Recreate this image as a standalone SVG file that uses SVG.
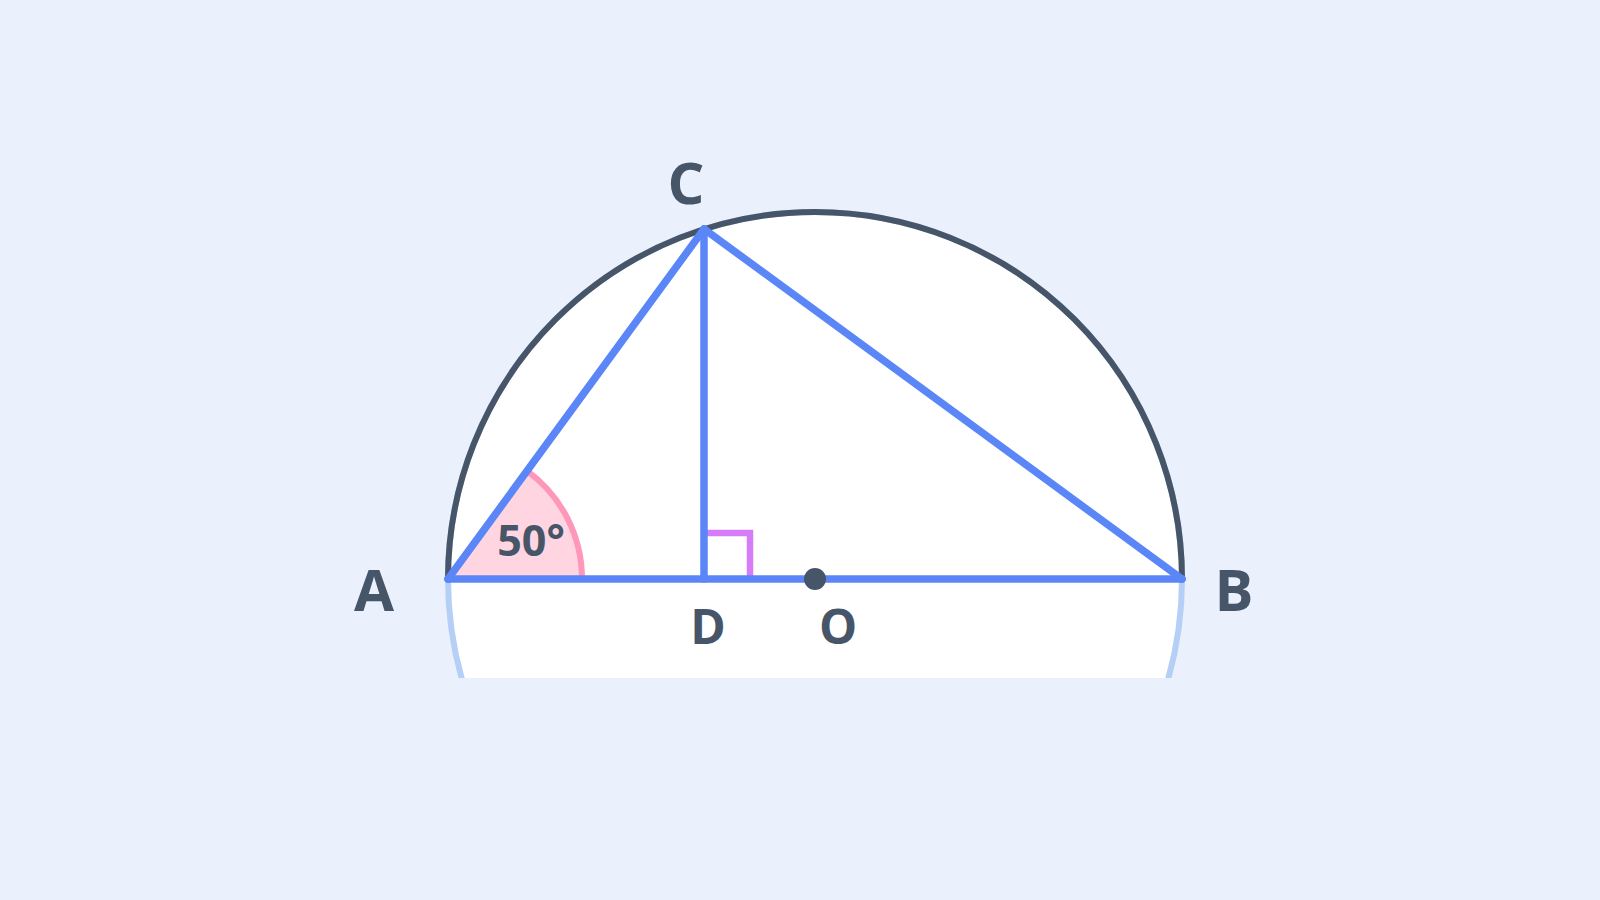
<svg xmlns="http://www.w3.org/2000/svg" width="1600" height="900" viewBox="0 0 1600 900">
<defs>
<style>
.lbl{font-family:"Open Sans","Noto Sans","Liberation Sans",sans-serif;font-weight:700;fill:#475569;text-anchor:middle}
.seg{stroke:#5b86f8;stroke-width:7.5;stroke-linecap:round;fill:none}
</style>
<clipPath id="cut"><rect x="0" y="0" width="1600" height="678"/></clipPath>
</defs>
<rect width="1600" height="900" fill="#eaf1fc"/>
<g id="circle">
<circle cx="815" cy="579" r="367" fill="#ffffff" stroke="#b5cff6" stroke-width="6" clip-path="url(#cut)"/>
<path d="M448,579 A367,367 0 0 1 1182,579" fill="none" stroke="#475569" stroke-width="6"/>
</g>
<g id="angle-A">
<path d="M448,579 L582,579 A134,134 0 0 0 527.1,470.9 Z" fill="#fed5e0"/>
<path d="M582,579 A134,134 0 0 0 527.1,470.9" fill="none" stroke="#fe97b9" stroke-width="6"/>
<text class="lbl" x="531" y="556" font-size="43">50°</text>
</g>
<g id="right-angle-D">
<path d="M704,533 L750,533 L750,578" fill="none" stroke="#d67cf8" stroke-width="6.5"/>
</g>
<g id="connectors">
<line class="seg" x1="448" y1="579" x2="1182" y2="579"/>
<line class="seg" x1="448" y1="579" x2="704" y2="229"/>
<line class="seg" x1="704" y1="229" x2="1182" y2="579"/>
<line class="seg" x1="704" y1="229" x2="704" y2="579"/>
</g>
<g id="node-O">
<circle cx="815" cy="579" r="11" fill="#475569"/>
<text class="lbl" x="838" y="644" font-size="48">O</text>
</g>
<g id="node-A"><text class="lbl" x="374" y="611" font-size="58">A</text></g>
<g id="node-B"><text class="lbl" x="1234" y="611" font-size="58">B</text></g>
<g id="node-C"><text class="lbl" x="686" y="204" font-size="58">C</text></g>
<g id="node-D"><text class="lbl" x="708" y="644" font-size="48">D</text></g>
</svg>
